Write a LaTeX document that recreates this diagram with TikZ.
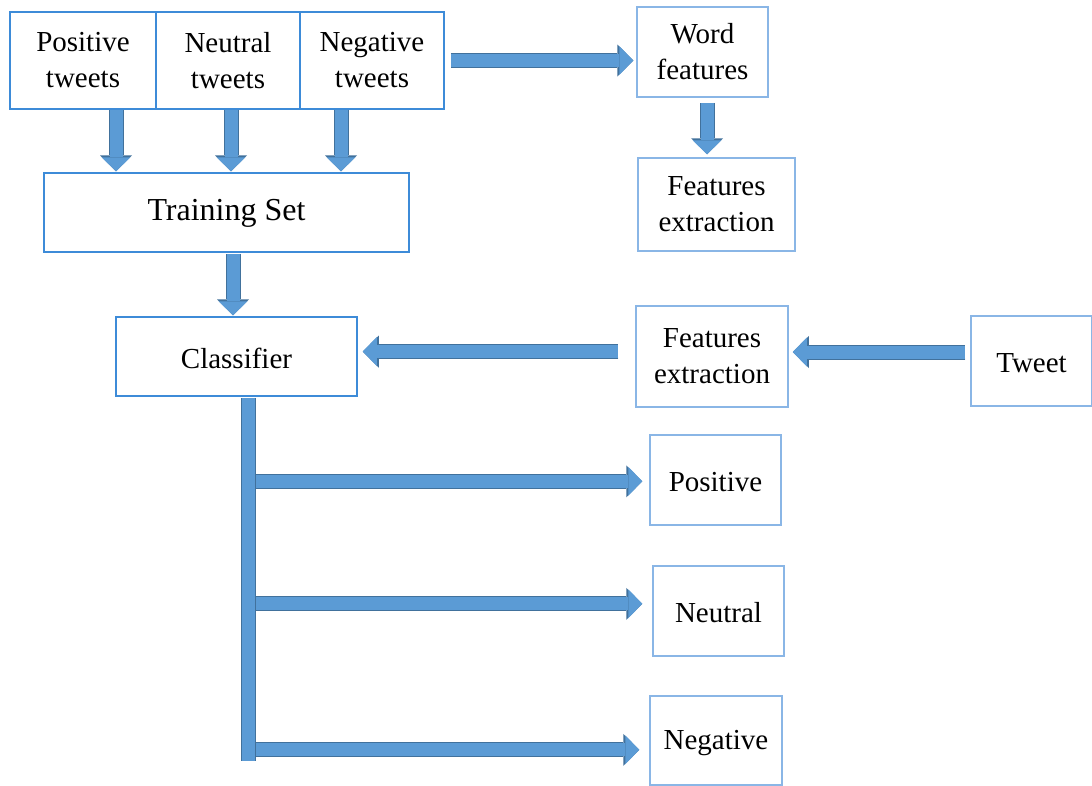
\documentclass[tikz,border=0pt]{standalone}
\usepackage{fontspec}
\setmainfont{Liberation Serif}
\usetikzlibrary{arrows.meta,calc}
\definecolor{bfill}{HTML}{5B9BD5}
\definecolor{bedge}{HTML}{41719C}
\definecolor{bxa}{HTML}{3D8BD8}
\definecolor{bxb}{HTML}{8AB6E6}
\begin{document}
\begin{tikzpicture}[x=1pt,y=-1pt,
  box/.style={draw=bxa, line width=1.5pt, fill=white, inner sep=0pt, align=center,
    font=\fontsize{29}{36}\selectfont, execute at begin node={\rule{0pt}{23.5pt}}},
  two/.style={execute at begin node={\rule{0pt}{31pt}}},
  lbox/.style={box, draw=bxb},
  blk/.style={draw=bfill, line width=13pt,
    -{Triangle[width=29pt,length=14pt,line width=0pt]},
    preaction={draw=bedge, line width=15pt, -{Triangle[width=32pt,length=16pt,line width=0pt]}}},
  bar/.style={draw=bfill, line width=13pt, preaction={draw=bedge, line width=15pt}}]
\useasboundingbox (0,0) rectangle (1092,785);
\fill[white] (0,0) rectangle (1092,785);
% nodes
\node[box, two, minimum width=146pt, minimum height=97pt] (pos) at (83,60.5) {Positive\\tweets};
\node[box, two, minimum width=144pt, minimum height=97pt] (neu) at (228,60.5) {Neutral\\tweets};
\node[box, two, minimum width=144pt, minimum height=97pt] (neg) at (372,60.5) {Negative\\tweets};
\node[lbox, two, minimum width=131pt, minimum height=90pt] (word) at (702.5,52) {Word\\features};
\node[lbox, two, minimum width=157pt, minimum height=93pt] (fe1) at (716.5,204.5) {Features\\extraction};
\node[box, minimum width=365pt, minimum height=79pt, font=\fontsize{32}{38}\selectfont] (train) at (226.5,212.5) {Training Set};
\node[box, minimum width=241pt, minimum height=79pt] (cls) at (236.5,356.5) {Classifier};
\node[lbox, two, minimum width=152pt, minimum height=101pt] (fe2) at (712,356.5) {Features\\extraction};
\node[lbox, minimum width=121pt, minimum height=90pt] (tweet) at (1031.5,361) {Tweet};
\node[lbox, minimum width=131pt, minimum height=90pt] (opos) at (715.5,480) {Positive};
\node[lbox, minimum width=131pt, minimum height=90pt] (oneu) at (718.5,611) {Neutral};
\node[lbox, minimum width=132pt, minimum height=89pt] (oneg) at (716,740.5) {Negative};
% arrows from tweet sets to training set
\coordinate (a1) at ($(pos.south)+(33,0)$);
\coordinate (a2) at ($(neu.south)+(3,0)$);
\coordinate (a3) at ($(neg.south)+(-31,0)$);
\draw[blk] (a1) -- ($(a1 |- train.north)+(0,-1)$);
\draw[blk] (a2) -- ($(a2 |- train.north)+(0,-1)$);
\draw[blk] (a3) -- ($(a3 |- train.north)+(0,-1)$);
% negative tweets -> word features
\draw[blk] ($(neg.east)+(6,0)$) -- ($(neg.east -| word.west)+(-3,0)$);
% word features -> features extraction
\coordinate (w1) at ($(word.south)+(4.5,5)$);
\draw[blk] (w1) -- ($(w1 |- fe1.north)+(0,-3)$);
% training set -> classifier
\coordinate (t1) at ($(train.south)+(6.5,1)$);
\draw[blk] (t1) -- ($(t1 |- cls.north)+(0,-1)$);
% features extraction -> classifier
\coordinate (f1) at ($(fe2.west)+(-17,-5)$);
\draw[blk] (f1) -- ($(f1 -| cls.east)+(5,0)$);
% tweet -> features extraction
\coordinate (tw1) at ($(tweet.west)+(-5,-9)$);
\draw[blk] (tw1) -- ($(tw1 -| fe2.east)+(4,0)$);
% classifier outputs
\coordinate (bt) at ($(cls.south)+(12,1)$);
\coordinate (bb) at ($(bt)+(0,363)$);
\coordinate (j1) at ($(bt)+(6.5,83.5)$);
\coordinate (j2) at ($(bt)+(6.5,206)$);
\coordinate (j3) at ($(bt)+(6.5,352)$);
\draw[blk] (j1) -- ($(j1 -| opos.west)+(-7,0)$);
\draw[blk] (j2) -- ($(j2 -| oneu.west)+(-10,0)$);
\draw[blk] (j3) -- ($(j3 -| oneg.west)+(-10,0)$);
\draw[bar] (bt) -- (bb);
\end{tikzpicture}
\end{document}
